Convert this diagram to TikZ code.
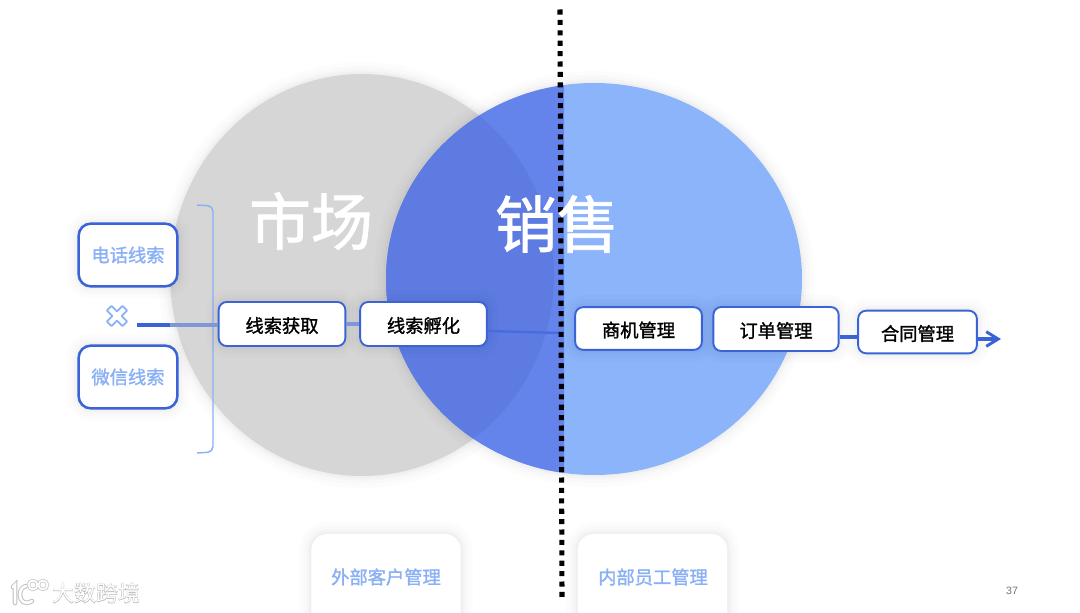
\documentclass[tikz,border=0pt]{standalone}
\usepackage{fontspec}
\usetikzlibrary{arrows.meta}
\newfontfamily\cjk[FakeBold=1.5]{Noto Sans CJK SC}
\newfontfamily\cjktitle[FakeBold=1.2]{Noto Sans CJK SC}
\newfontfamily\cjkplain{Noto Sans CJK SC}
\newfontfamily\cjkhalo[FakeBold=2.5]{Noto Sans CJK SC}
\setsansfont{Liberation Sans}
\definecolor{edgeblue}{HTML}{3A63D8}
\definecolor{softblue}{HTML}{8AB0F5}
\definecolor{greydisc}{HTML}{D6D6D6}
\definecolor{bluedisc}{HTML}{8BB4FB}
\definecolor{deepdisc}{HTML}{6484EC}
\definecolor{overlapdisc}{HTML}{5E7BE2}
\definecolor{mutedline}{HTML}{7F97D8}
\definecolor{midline}{HTML}{486CDF}
\tikzset{
  softshadow/.style={
    preaction={draw=black,opacity=0.010,line width=18pt},
    preaction={draw=black,opacity=0.012,line width=12pt},
    preaction={draw=black,opacity=0.015,line width=7pt},
    preaction={draw=black,opacity=0.018,line width=3.5pt}},
  flowbox/.style={draw=edgeblue,line width=1.4pt,fill=white,rounded corners=6pt,
    inner sep=0pt,softshadow,text=black,text depth=0pt,font=\cjk\fontsize{13.7}{16}\selectfont},
  sourcebox/.style={draw=edgeblue,line width=1.9pt,fill=white,rounded corners=9pt,
    inner sep=0pt,softshadow,text=softblue,minimum width=74pt,minimum height=47pt,
    font=\cjk\fontsize{13.7}{16}\selectfont},
  cardbox/.style={draw=none,fill=white,rounded corners=12pt,inner sep=0pt,softshadow,
    minimum width=112pt,minimum height=72pt},
  cardtext/.style={text=softblue,inner sep=0pt,font=\cjk\fontsize{13.7}{16}\selectfont},
  bigword/.style={text=white,inner sep=0pt,font=\cjktitle\fontsize{46.5}{50}\selectfont},
  logoline/.style={line cap=round},
}
\begin{document}
\begin{tikzpicture}[x=0.75pt,y=-0.75pt]
\useasboundingbox (0,0) rectangle (1080,613);
\fill[white] (0,0) rectangle (1080,613);

% discs
\fill[greydisc,softshadow] (362,275) ellipse [x radius=192,y radius=201];
\fill[bluedisc,softshadow] (594,279) ellipse [x radius=208,y radius=196];
\begin{scope}
  \clip (0,0) rectangle (564,613);
  \fill[deepdisc] (594,279) ellipse [x radius=208,y radius=196];
  \clip (362,275) ellipse [x radius=192,y radius=201];
  \fill[overlapdisc] (594,279) ellipse [x radius=208,y radius=196];
\end{scope}

% source boxes
\node[sourcebox] (phone) at (128,255) {\raisebox{-1.2pt}{电话线索}};
\node[sourcebox] (wechat) at (128,377) {\raisebox{-1.2pt}{微信线索}};

% cross icon
\draw[softblue,line width=1.3pt,line join=round,rotate around={45:(117,316)}]
  (113.7,305) -- (120.3,305) -- (120.3,312.7) -- (128,312.7) -- (128,319.3) -- (120.3,319.3)
  -- (120.3,327) -- (113.7,327) -- (113.7,319.3) -- (106,319.3) -- (106,312.7) -- (113.7,312.7) -- cycle;

% bracket
\coordinate (brtop) at (197,205);
\coordinate (brbot) at (197,453);
\draw[softblue,line width=1.1pt,rounded corners=4pt] (brtop) -- (213,206) -- (213,452) -- (brbot);

% process boxes
\node[flowbox,minimum width=95pt,minimum height=33pt] (acquire) at (282,324) {\raisebox{-1.2pt}{线索获取}};
\node[flowbox,minimum width=95pt,minimum height=33pt] (nurture) at (423.5,324) {\raisebox{-1.2pt}{线索孵化}};
\node[flowbox,minimum width=95pt,minimum height=32pt] (oppty) at (638.5,328.5) {\raisebox{-1.2pt}{商机管理}};
\node[flowbox,minimum width=94pt,minimum height=33pt] (order) at (776,329) {\raisebox{-1.2pt}{订单管理}};
\node[flowbox,minimum width=89pt,minimum height=32pt] (contract) at (917.5,332) {\raisebox{-1.2pt}{合同管理}};

% connectors
\coordinate (linestart) at (137,325);
\coordinate (greyedge) at (170,325);
\coordinate (dotcross) at (561,333);
\coordinate (arrowend) at (1001,339);
\coordinate (orderout) at (839.5,337);
\coordinate (contractin) at (858,337);
\coordinate (contractout) at (977.5,339);
\coordinate (nurtureout) at (487,331);
\draw[edgeblue,line width=2.4pt] (linestart) -- (greyedge);
\draw[mutedline,line width=2.4pt] (greyedge) -- (acquire.west |- greyedge);
\draw[mutedline,line width=2.4pt] (acquire.east) -- (nurture.west);
\draw[midline,line width=1.8pt] (nurtureout) -- (dotcross);
\draw[edgeblue,line width=2.4pt] (orderout) -- (contractin);
\draw[edgeblue,line width=2.4pt,-{Straight Barb[length=9pt,width=11pt,line width=2.2pt]}] (contractout) -- (arrowend);

% dotted divider
\coordinate (divtop) at (560,9.5);
\coordinate (divbot) at (562,597);
\draw[black,line width=3.8pt,dash pattern=on 3.8pt off 4pt] (divtop) -- (divbot);

% titles
\node[bigword] (market) at (311,221) {市场};
\node[bigword] (sales) at (557,224) {销售};

% bottom cards
\node[cardbox] (extcard) at (386,582) {};
\node[cardbox] (intcard) at (652.5,582) {};
\node[cardtext] (exttext) at (386,577) {外部客户管理};
\node[cardtext] (inttext) at (653,577) {内部员工管理};

% page number
\node[inner sep=0pt,text=black!55,font=\sffamily\fontsize{8}{10}\selectfont] (pageno) at (1012,591) {37};

% watermark
\foreach \c/\w in {black!25/3.4pt,white/2pt}{
  \draw[\c,line width=\w,logoline] (13,587) -- (15,585) -- (15,603);
  \draw[\c,line width=\w,logoline] (32,601) .. controls (24,606) and (20,600) .. (20,595) .. controls (20,590) and (22,587) .. (26,586);
  \draw[\c,line width=\w*0.7] (33,585) circle (4.5);
  \draw[\c,line width=\w*0.7] (43,585) circle (4.5);
}
\node[inner sep=0pt,text=black!30,font=\cjkhalo\fontsize{16.5}{20}\selectfont] (wmhalo) at (96,593) {大数跨境};
\node[inner sep=0pt,text=white,font=\cjkplain\fontsize{16.5}{20}\selectfont] (wmtext) at (96,593) {大数跨境};
\end{tikzpicture}
\end{document}
